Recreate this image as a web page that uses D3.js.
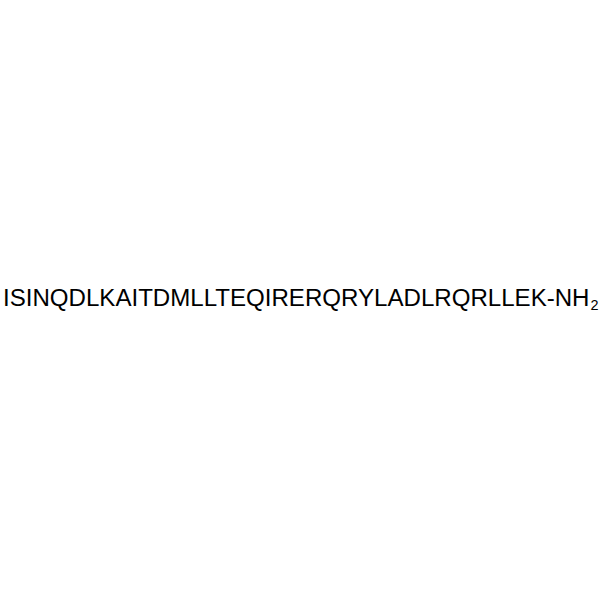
<!DOCTYPE html>
<html>
<head>
<meta charset="utf-8">
<script src="https://cdn.jsdelivr.net/npm/d3@7"></script>
<style>
  body { margin: 0; background: #fff; }
</style>
</head>
<body>
<div id="chart"></div>
<script>

var residues = ["I","S","I","N","Q","D","L","K","A","I","T","D","M","L","L","T","E","Q",
                "I","R","E","R","Q","R","Y","L","A","D","L","R","Q","R","L","L","E","K"];
var cTerminus = ["-NH", "2"];

var width = 600,
    height = 600;

var svg = d3.select("#chart").append("svg")
    .attr("width", width)
    .attr("height", height);

var label = svg.append("text")
    .attr("x", 3)
    .attr("y", 305.5)
    .attr("font-family", "Liberation Sans, Arial, sans-serif")
    .attr("font-size", 21)
    .attr("fill", "#000");

label.append("tspan")
    .attr("class", "seq")
    .text(residues.join("") + cTerminus[0]);

// fit main text to the reference span (x 3 -> 589)
var main = label.select(".seq").node();
var w = main.getComputedTextLength();
var size = 21 * 587 / w;
label.attr("font-size", size);

label.append("tspan")
    .attr("dx", 1)
    .attr("dy", 4.5)
    .attr("font-size", size * 0.6)
    .text(cTerminus[1]);

</script>
</body>
</html>
